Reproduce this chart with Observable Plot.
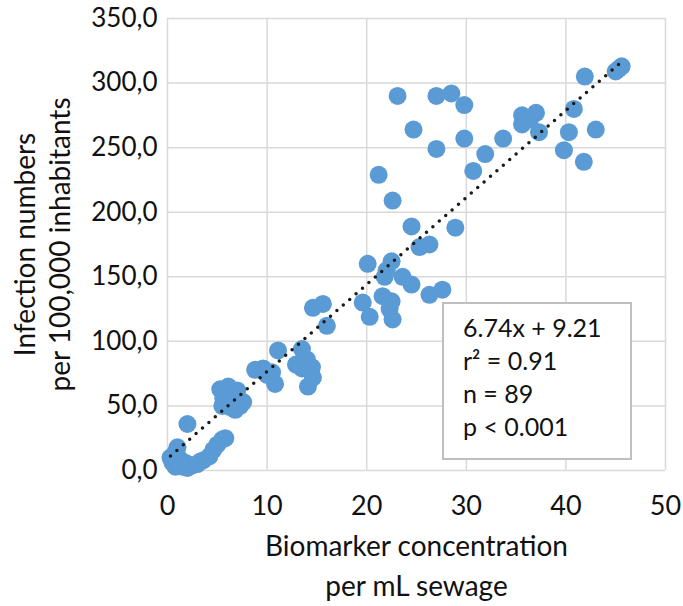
<!DOCTYPE html>
<html>
<head>
<meta charset="utf-8">
<script src="https://cdn.jsdelivr.net/npm/d3@7"></script>
<script src="https://cdn.jsdelivr.net/npm/@observablehq/plot@0.6"></script>
<style>
  body { margin: 0; background: #fff; }
  #wrap { position: relative; width: 683px; height: 606px; font-family: Lato, "Open Sans", sans-serif; }
  #stats { position: absolute; left: 442px; top: 302px; width: 190px; height: 158px;
           border: 2px solid #bfbfbf; background: #fff; padding: 7px 0 0 19px; box-sizing: border-box;
           font-size: 25px; line-height: 33px; color: #111; }
  #stats div { white-space: nowrap; }
</style>
</head>
<body>
<div id="wrap"></div>
<script>
// Biomarker concentration per mL sewage (x) and infection numbers per 100,000 inhabitants (y)
const conc = [
  0.3, 0.5, 0.8, 1.0, 0.8, 1.5, 2.0, 2.5, 3.0, 3.6, 4.2, 4.6, 5.0, 5.5, 5.8, 2.0, 1.2, 1.8, 3.3,
  5.3, 6.1, 7.0, 5.6, 6.6, 7.6, 6.3, 7.3, 5.5, 6.8,
  8.8, 9.6, 10.0, 10.5, 10.8, 11.1,
  13.5, 12.9, 13.5, 14.0, 14.5, 14.6, 14.1,
  14.6, 15.6, 16.0,
  19.6, 20.3, 20.1, 21.6, 22.5, 22.6, 22.3, 21.8, 22.5, 23.6, 24.5, 25.3, 26.3, 24.5, 26.3, 27.6, 28.9,
  21.2, 22.6, 22.0,
  23.1, 27.0, 28.5, 29.8, 24.7, 29.8, 27.0, 30.7, 31.9, 33.7,
  35.6, 37.0, 35.6, 37.3, 36.4, 40.8, 40.3, 43.0, 39.8, 41.8, 41.9, 45.0, 45.6, 45.3
];
const cases = [
  10, 6, 14, 18, 3, 3, 2, 4, 5, 8, 11, 16, 20, 24, 25, 36, 9, 6, 7,
  63, 65, 62, 56, 56, 53, 49, 50, 50, 47,
  78, 79, 74, 76, 67, 93,
  94, 82, 79, 86, 80, 72, 65,
  126, 129, 112,
  130, 119, 160, 135, 131, 117, 125, 150, 162, 150, 144, 173, 175, 189, 136, 140, 188,
  229, 209, 155,
  290, 290, 292, 283, 264, 257, 249, 232, 245, 257,
  275, 277, 268, 262, 272, 280, 262, 264, 248, 239, 305, 309, 313, 311
];
// Regression shown in the box
const slope = 6.74;
const intercept = 9.21;
const statLines = ["6.74x + 9.21", "r\u00B2 = 0.91", "n = 89", "p < 0.001"];
const xTicks = [0, 10, 20, 30, 40, 50];
const yTicks = [0, 50, 100, 150, 200, 250, 300, 350];
const xTitle = "Biomarker concentration\nper mL sewage";
const yTitle = "Infection numbers\nper 100,000 inhabitants";

const points = conc.map((c, i) => ({x: c, y: cases[i]}));
const trend = d3.extent(conc).map(x => ({x, y: slope * x + intercept}));

const grid = {stroke: "#d9d9d9", strokeOpacity: 1, strokeWidth: 1.5};

const chart = Plot.plot({
  width: 683,
  height: 606,
  marginLeft: 167,
  marginRight: 18,
  marginTop: 18,
  marginBottom: 136,
  x: {domain: [0, 50]},
  y: {domain: [0, 350]},
  style: {fontFamily: "Lato, 'Open Sans', sans-serif", fontSize: "26px", color: "#111", background: "#fff"},
  marks: [
    Plot.gridX(xTicks, grid),
    Plot.gridY(yTicks, grid),
    Plot.axisX(xTicks, {tickSize: 0, tickPadding: 25, label: null, fontSize: 27, tickFormat: d => String(d)}),
    Plot.axisY(yTicks, {tickSize: 0, tickPadding: 10, label: null, fontSize: 26, tickFormat: d => d.toFixed(1).replace(".", ",")}),
    Plot.dot(points, {x: "x", y: "y", r: 9, fill: "#5B9BD5", stroke: null}),
    Plot.line(trend, {x: "x", y: "y", stroke: "#1a1a1a", strokeWidth: 3.5, strokeDasharray: "0 8.5", strokeLinecap: "round"}),
    Plot.text([xTitle], {frameAnchor: "bottom", dy: 93, lineAnchor: "middle", lineHeight: 1.43, fontSize: 28, fill: "#111"}),
    Plot.text([yTitle], {frameAnchor: "left", rotate: -90, dx: -126, textAnchor: "middle", lineAnchor: "middle", lineHeight: 1.25, fontSize: 28, fill: "#111"})
  ]
});

const wrap = document.getElementById("wrap");
wrap.appendChild(chart);
const box = document.createElement("div");
box.id = "stats";
statLines.forEach(t => { const d = document.createElement("div"); d.textContent = t; box.appendChild(d); });
wrap.appendChild(box);
</script>
</body>
</html>
